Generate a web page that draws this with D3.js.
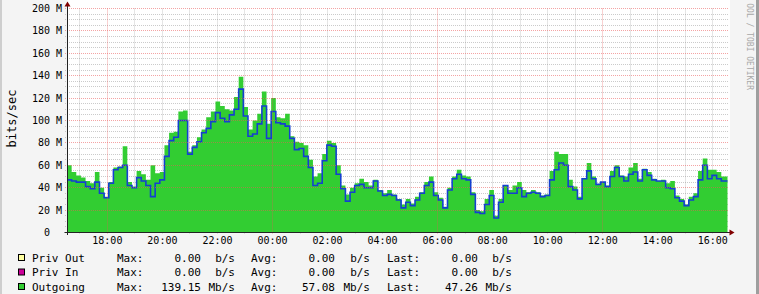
<!DOCTYPE html>
<html><head><meta charset="utf-8">
<script src="https://cdn.jsdelivr.net/npm/d3@7"></script>
<style>
html,body{margin:0;padding:0;background:#f4f4f4;}
svg{display:block;font-family:"DejaVu Sans Mono",monospace;}
</style></head><body>
<svg id="c" width="759" height="294"></svg>
<script>
// ---- data ----
const startTime = "2024-01-01 16:32";
const endTime = "2024-01-02 16:32";
const stepSeconds = 607;
// Outgoing (green area), Mb/s
const outgoing = [
 60,54,51,49,46,44,54,40,32,45,
 58,59,77,45,41,55,52,47,60,53,
 54,78,89,90,108,109,72,78,85,92,
 103,108,117,113,110,109,121,139,112,92,
 100,106,126,97,120,103,102,106,86,81,
 80,78,65,50,53,70,82,80,60,42,
 34,40,44,48,45,42,47,38,35,38,
 34,30,25,30,26,32,36,45,50,36,
 31,23,40,50,56,51,50,36,20,19,
 30,38,15,30,42,38,42,45,38,36,
 38,36,33,34,55,72,70,70,47,41,
 32,48,62,50,43,45,42,55,60,51,
 50,58,62,48,57,54,48,46,47,44,
 46,33,30,25,32,35,55,66,56,56,
 54,50];
// blue line, Mb/s
const outLine = [
 47,46,45,45,41,39,45,35,31,44,
 56,58,60,42,40,49,46,42,32,44,
 47,68,82,85,100,100,70,76,81,89,
 93,99,107,102,99,105,110,128,104,86,
 88,97,113,84,108,98,97,95,84,74,
 75,68,58,42,44,64,78,77,52,39,
 28,36,42,43,40,40,46,37,33,34,
 33,29,22,27,24,29,35,42,45,33,
 29,22,38,48,52,48,47,34,18,17,
 25,33,13,27,42,35,35,40,32,35,
 36,35,32,33,47,56,62,60,41,38,
 30,48,55,48,43,45,41,50,58,50,
 46,52,54,46,56,51,47,46,46,40,
 39,31,28,24,29,32,47,60,48,51,
 48,46];
const yTicks = [0,20,40,60,80,100,120,140,160,180,200];
const legendLabels = ["Priv Out","Priv In","Outgoing"];
const legendColors = ["#ffffa0","#cc0099","#32cd32"];
const legendMax = [0.00, 0.00, 139.15];
const legendAvg = [0.00, 0.00, 57.08];
const legendLast = [0.00, 0.00, 47.26];
const legendUnits = ["b/s","b/s","Mb/s"];
const watermark = "OOL / TOBI OETIKER";

// ---- layout ----
const svg = d3.select("#c");
const plotL = 67, plotR = 727.5, yZero = 232.5, yTop = 8.5;
const parseT = d3.timeParse("%Y-%m-%d %H:%M");
const t0 = parseT(startTime), tEnd = parseT(endTime);
const x = d3.scaleTime().domain([t0, tEnd]).range([plotL, plotR]);
const y = d3.scaleLinear().domain([0, 200]).range([yZero, yTop]);
const snap = v => Math.round(v - 0.5) + 0.5;

svg.append("rect").attr("width", 759).attr("height", 294).attr("fill", "#f4f4f4");
svg.append("rect").attr("x", plotL).attr("y", 0).attr("width", 730 - plotL).attr("height", 233).attr("fill", "#fff");
// frame
svg.append("rect").attr("x", 0).attr("y", 0).attr("width", 2).attr("height", 294).attr("fill", "#cecece");
svg.append("rect").attr("x", 756).attr("y", 0).attr("width", 3).attr("height", 294).attr("fill", "#9e9e9e");

const hours = d3.timeHour.range(t0, tEnd);
const gMinor = svg.append("g").attr("stroke", "rgba(140,140,140,0.45)").attr("stroke-dasharray", "1,1").attr("stroke-width", 1);
d3.range(0, 201, 5).filter(v => v % 20 !== 0).forEach(v => {
  const yy = snap(y(v));
  gMinor.append("line").attr("x1", plotL - 2).attr("x2", 729).attr("y1", yy).attr("y2", yy);
});
hours.filter(h => h.getHours() % 6 !== 0).forEach(h => {
  const xx = snap(x(h));
  gMinor.append("line").attr("x1", xx).attr("x2", xx).attr("y1", yTop).attr("y2", yZero + 2);
});

// data
const tAt = i => new Date(+t0 + i * stepSeconds * 1000);
const ptsA = outgoing.map((v, i) => ({t: tAt(i), v}));
ptsA.push({t: tEnd, v: outgoing[outgoing.length - 1]});
const ptsL = outLine.map((v, i) => ({t: tAt(i), v}));
ptsL.push({t: tEnd, v: outLine[outLine.length - 1]});

svg.append("path").datum(ptsA)
  .attr("d", d3.area().curve(d3.curveStepAfter).x(d => x(d.t)).y0(y(0)).y1(d => y(d.v)))
  .attr("fill", "#32cd32");
svg.append("path").datum(ptsL)
  .attr("d", d3.line().curve(d3.curveStepAfter).x(d => x(d.t)).y(d => y(d.v)))
  .attr("fill", "none").attr("stroke", "#1440d0").attr("stroke-width", 1.6);

// major grid (over data)
const gMajor = svg.append("g").attr("stroke", "rgba(235,90,90,0.55)").attr("stroke-dasharray", "1,1").attr("stroke-width", 1);
yTicks.filter(v => v > 0).forEach(v => {
  const yy = snap(y(v));
  gMajor.append("line").attr("x1", plotL - 2).attr("x2", 729).attr("y1", yy).attr("y2", yy);
});
hours.filter(h => h.getHours() % 6 === 0).forEach(h => {
  const xx = snap(x(h));
  gMajor.append("line").attr("x1", xx).attr("x2", xx).attr("y1", yTop).attr("y2", yZero + 2);
});

// axes
svg.append("line").attr("x1", 64.5).attr("x2", 731).attr("y1", yZero).attr("y2", yZero).attr("stroke", "#222");
svg.append("line").attr("x1", 67.5).attr("x2", 67.5).attr("y1", 235).attr("y2", 4).attr("stroke", "#222");
svg.append("path").attr("d", "M734.5,232.5L729.5,229.5L729.5,235.5Z").attr("fill", "#800000");
svg.append("path").attr("d", "M67.5,1.5L64.5,6.5L70.5,6.5Z").attr("fill", "#800000");

// y tick labels
svg.append("g").selectAll("text").data(yTicks).join("text")
  .attr("x", 62).attr("y", d => y(d) + 3.5).attr("text-anchor", "end")
  .attr("font-size", 10).attr("fill", "#000")
  .text(d => d === 0 ? "0\u00a0\u00a0" : d + " M");

// x tick labels
svg.append("g").selectAll("text").data(hours.filter(h => h.getHours() % 2 === 0)).join("text")
  .attr("x", d => x(d)).attr("y", 244).attr("text-anchor", "middle")
  .attr("font-size", 10).attr("fill", "#000")
  .text(d => d3.timeFormat("%H:%M")(d));

// y axis title
svg.append("text").attr("transform", "translate(16,118.5) rotate(-90)")
  .attr("text-anchor", "middle").attr("font-size", 12).attr("fill", "#000").text("bits/sec");

// watermark (the reference shows it clipped at the top edge)
svg.append("text").attr("transform", "translate(746.5,90) rotate(90)")
  .attr("text-anchor", "end").attr("font-size", 8).attr("fill", "#a8a8a8").text(watermark);

// legend
const baselines = [261.5, 276, 290.5];
const fmt = v => v.toFixed(2);
legendLabels.forEach((lab, i) => {
  const by = baselines[i];
  const g = svg.append("g").attr("font-size", 11).attr("fill", "#000");
  svg.append("rect").attr("x", 18.5).attr("y", by - 7).attr("width", 6).attr("height", 6)
    .attr("fill", legendColors[i]).attr("stroke", "#000");
  g.append("text").attr("x", 32).attr("y", by).text(lab);
  g.append("text").attr("x", 117).attr("y", by).text("Max:");
  g.append("text").attr("x", 201).attr("y", by).attr("text-anchor", "end").text(fmt(legendMax[i]));
  g.append("text").attr("x", 235).attr("y", by).attr("text-anchor", "end").text(legendUnits[i]);
  g.append("text").attr("x", 251).attr("y", by).text("Avg:");
  g.append("text").attr("x", 335).attr("y", by).attr("text-anchor", "end").text(fmt(legendAvg[i]));
  g.append("text").attr("x", 370).attr("y", by).attr("text-anchor", "end").text(legendUnits[i]);
  g.append("text").attr("x", 387).attr("y", by).text("Last:");
  g.append("text").attr("x", 478).attr("y", by).attr("text-anchor", "end").text(fmt(legendLast[i]));
  g.append("text").attr("x", 512).attr("y", by).attr("text-anchor", "end").text(legendUnits[i]);
});
</script>
</body></html>
